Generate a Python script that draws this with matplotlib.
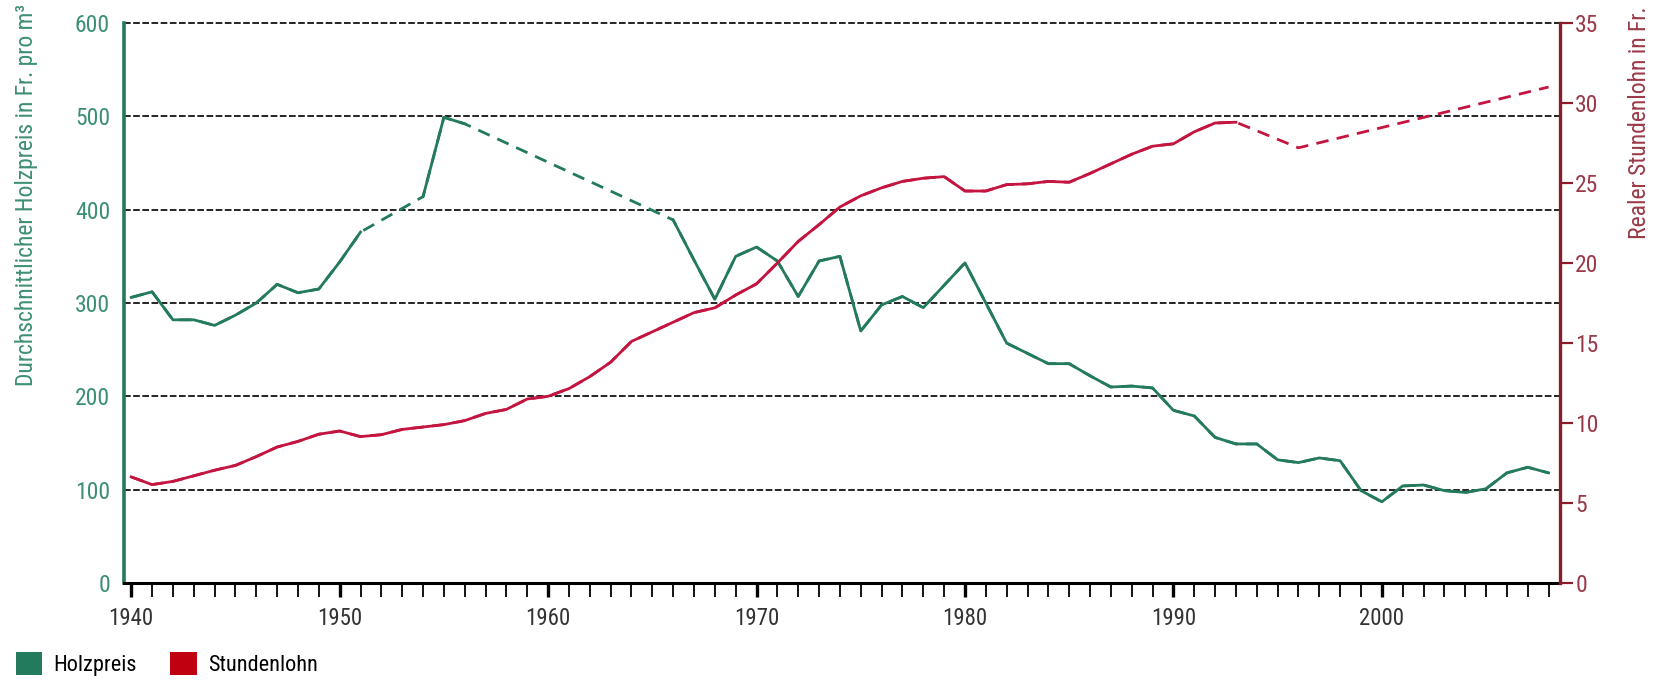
import numpy as np
import matplotlib
matplotlib.use("Agg")
import matplotlib.pyplot as plt
from matplotlib import font_manager
from matplotlib.patches import Patch

nan = np.nan

# Jahre 1940 - 2008
years = np.arange(1940, 2009)

# durchschnittlicher Holzpreis in Fr. pro m3 (nan = keine Daten)
holzpreis = [
    306, 312, 282, 282, 276, 287, 300, 320, 311, 315,   # 1940-49
    344, 376, nan, nan, 414, 499, 492, nan, nan, nan,   # 1950-59
    nan, nan, nan, nan, nan, nan, 389, 346, 304, 350,   # 1960-69
    360, 345, 307, 345, 350, 270, 298, 307, 295, 319,   # 1970-79
    343, 300, 257, 246, 235, 235, 222, 210, 211, 209,   # 1980-89
    185, 179, 156, 149, 149, 132, 129, 134, 131, 99,    # 1990-99
    87, 104, 105, 99, 97, 101, 118, 124, 118,           # 2000-08
]

# realer Stundenlohn in Fr.
stundenlohn = [
    6.63, 6.15, 6.35, 6.7, 7.05, 7.35, 7.9, 8.5, 8.85, 9.3,          # 1940-49
    9.5, 9.15, 9.27, 9.6, 9.75, 9.9, 10.15, 10.6, 10.85, 11.5,       # 1950-59
    11.67, 12.15, 12.9, 13.8, 15.1, 15.7, 16.3, 16.9, 17.2, 18.0,    # 1960-69
    18.7, 20.0, 21.35, 22.4, 23.5, 24.2, 24.7, 25.1, 25.3, 25.4,     # 1970-79
    24.5, 24.5, 24.9, 24.95, 25.1, 25.05, 25.6, 26.2, 26.8, 27.3,    # 1980-89
    27.45, 28.2, 28.75, 28.8, nan, nan, 27.2, nan, nan, nan,         # 1990-99
    nan, nan, nan, nan, nan, nan, nan, nan, 31.0,                    # 2000-08
]

left_ticks = [0, 100, 200, 300, 400, 500, 600]
right_ticks = [0, 5, 10, 15, 20, 25, 30, 35]

GREEN = "#237a5c"
GREEN_TXT = "#3d8f74"
RED = "#c41440"
RED_AX = "#8b1c2c"
RED_TXT = "#9a3a48"

# schmale Schrift, falls vorhanden
names = {f.name for f in font_manager.fontManager.ttflist}
font = "DejaVu Sans"
for cand in ["Liberation Sans Narrow", "Roboto Condensed", "DejaVu Sans Condensed", "Liberation Sans"]:
    if cand in names:
        font = cand
        break
plt.rcParams["font.family"] = [font, "DejaVu Sans"]


def main():
    h = np.array(holzpreis, dtype=float)
    s = np.array(stundenlohn, dtype=float)

    fig = plt.figure(figsize=(16.66, 6.83), dpi=100)
    ax = fig.add_axes([0.0744, 0.1464, 0.862, 0.8199])
    ax2 = ax.twinx()

    # gridlines (top one too, not clipped)
    for v in left_ticks[1:]:
        ax.axhline(v, color="black", lw=1.2, ls=(0, (4, 1.5)), zorder=1, clip_on=False)

    # green: dashed across gaps, solid on top
    ok = ~np.isnan(h)
    ax.plot(years[ok], h[ok], color=GREEN, lw=2.0, ls=(0, (4.5, 3)), zorder=3)
    ax.plot(years, h, color=GREEN, lw=2.0, zorder=4)

    ok = ~np.isnan(s)
    ax2.plot(years[ok], s[ok], color=RED, lw=2.0, ls=(0, (4.5, 3)), zorder=3)
    ax2.plot(years, s, color=RED, lw=2.0, zorder=4)

    ax.set_xlim(1939.65, 2008.55)
    ax.set_ylim(0, 600)
    ax2.set_ylim(0, 35)

    # spines
    for a in (ax, ax2):
        a.spines["top"].set_visible(False)
    ax.spines["right"].set_visible(False)
    ax2.spines["left"].set_visible(False)
    ax2.spines["bottom"].set_visible(False)
    ax.spines["left"].set_color(GREEN)
    ax.spines["left"].set_linewidth(2.6)
    ax.spines["bottom"].set_color("black")
    ax.spines["bottom"].set_linewidth(2.2)
    ax2.spines["right"].set_color(RED_AX)
    ax2.spines["right"].set_linewidth(2.4)

    # x ticks: every year, decades bolder
    ax.set_xticks(np.arange(1940, 2009, 10))
    ax.set_xticks(np.arange(1940, 2009, 1), minor=True)
    ax.tick_params(axis="x", which="major", length=10, width=2.4, color="black",
                   labelsize=16.5, labelcolor="#333333", pad=7, direction="out")
    ax.tick_params(axis="x", which="minor", length=10, width=1.3, color="black", direction="out")

    ax.set_yticks(left_ticks)
    ax.tick_params(axis="y", length=0, pad=10, labelsize=17, labelcolor=GREEN_TXT)

    ax2.set_yticks(right_ticks)
    ax2.tick_params(axis="y", length=9, width=1.6, color=RED_AX, pad=2,
                    labelsize=17, labelcolor=RED_TXT, direction="out")

    # axis titles, oben ausgerichtet
    fig.text(0.016, 0.995, "Durchschnittlicher Holzpreis in Fr. pro m³", rotation=90,
             ha="center", va="top", color=GREEN_TXT, fontsize=17)
    fig.text(0.984, 0.99, "Realer Stundenlohn in Fr.", rotation=90,
             ha="center", va="top", color=RED_TXT, fontsize=17)

    handles = [Patch(facecolor=GREEN, edgecolor="none", label="Holzpreis"),
               Patch(facecolor="#c00010", edgecolor="none", label="Stundenlohn")]
    fig.legend(handles=handles, loc="lower left", bbox_to_anchor=(0.0, -0.012), ncol=2,
               frameon=False, fontsize=16, handlelength=1.2, handleheight=1.2,
               handletextpad=0.5, columnspacing=1.5, borderaxespad=0.3)

    fig.savefig("out.png", dpi=100)


if __name__ == "__main__":
    main()
